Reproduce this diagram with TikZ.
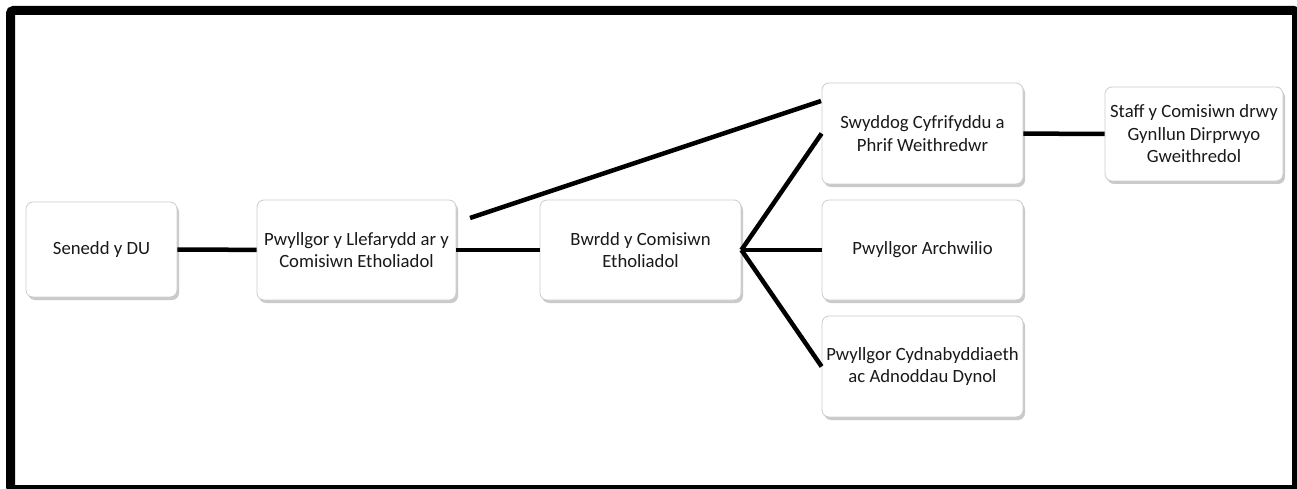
\documentclass[tikz,border=0pt]{standalone}
\usepackage{fontspec}
\setmainfont{Carlito}
\usetikzlibrary{shadows}

\tikzset{
  orgbox/.style={draw=black!20, line width=0.8pt, fill=white, rounded corners=7pt,
    align=center, inner sep=2pt, text=black!90,
    font=\fontsize{18.7}{22.5}\selectfont,
    drop shadow={shadow xshift=2pt, shadow yshift=-3pt, fill=black!60, opacity=0.35}},
  link/.style={line width=4.5pt}
}

\begin{document}
\begin{tikzpicture}[x=1pt, y=-1pt]
    \useasboundingbox (0,0) rectangle (1297,489);
    \draw[line width=9pt, rounded corners=3pt] (10.5,10.5) rectangle (1296.5,489.5);
    \node[orgbox, minimum width=151pt, minimum height=95pt] (senedd) at (101.5,249.5) {Senedd y DU};
    \node[orgbox, minimum width=199pt, minimum height=100pt] (llefarydd) at (356.5,250) {Pwyllgor y Llefarydd ar y\\Comisiwn Etholiadol};
    \node[orgbox, minimum width=201pt, minimum height=100pt] (bwrdd) at (640.5,250) {Bwrdd y Comisiwn\\Etholiadol};
    \node[orgbox, minimum width=201pt, minimum height=101pt] (swyddog) at (922.5,133.5) {Swyddog Cyfrifyddu a\\Phrif Weithredwr};
    \node[orgbox, minimum width=201pt, minimum height=100pt] (archwilio) at (922.5,250) {Pwyllgor Archwilio};
    \node[orgbox, minimum width=201pt, minimum height=101pt] (cydnabyddiaeth) at (922.5,366.5) {Pwyllgor Cydnabyddiaeth\\ac Adnoddau Dynol};
    \node[orgbox, minimum width=178pt, minimum height=94pt] (staff) at (1194,134) {Staff y Comisiwn drwy\\Gynllun Dirprwyo\\Gweithredol};
    \coordinate (diagstart) at (470,218);
    \coordinate (diagend) at (821,101);
    \draw[link] (senedd) -- (llefarydd);
    \draw[link] (llefarydd) -- (bwrdd);
    \draw[link] (diagstart) -- (diagend);
    % fan out from the board
    \draw[link] (bwrdd.east) -- (swyddog.west);
    \draw[link] (bwrdd.east) -- (archwilio.west);
    \draw[link] (bwrdd.east) -- (cydnabyddiaeth.west);
    \draw[link] (swyddog) -- (staff);
\end{tikzpicture}
\end{document}
